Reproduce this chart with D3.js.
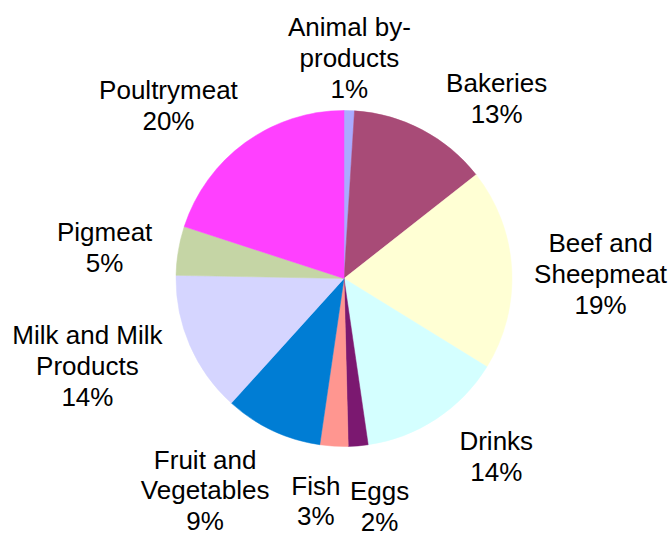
<!DOCTYPE html>
<html>
<head>
<meta charset="utf-8">
<script src="https://cdn.jsdelivr.net/npm/d3@7"></script>
<style>
  body { margin: 0; background: #fff; }
  text { font-family: "Liberation Sans", Arial, sans-serif; fill: #000; }
</style>
</head>
<body>
<svg id="chart"></svg>
<script>
const width = 669;
const height = 536;

// slice data, clockwise from 12 o'clock
const categories = ["Animal by-products", "Bakeries", "Beef and Sheepmeat", "Drinks", "Eggs",
  "Fish", "Fruit and Vegetables", "Milk and Milk Products", "Pigmeat", "Poultrymeat"];
const shares = [1.0, 13.4, 19.4, 13.9, 1.9, 2.7, 9.4, 13.6, 4.7, 20.0];
// label lines as they wrap in the original
const labelLines = [
  ["Animal by-", "products"], ["Bakeries"], ["Beef and", "Sheepmeat"], ["Drinks"], ["Eggs"],
  ["Fish"], ["Fruit and", "Vegetables"], ["Milk and Milk", "Products"], ["Pigmeat"], ["Poultrymeat"]
];
const colors = ["#aaaaff", "#a84b77", "#ffffd4", "#d4ffff", "#7b1870",
  "#ff9690", "#007dd4", "#d5d5ff", "#c5d5a5", "#ff40ff"];

// hand tweaks where the original moved labels apart
const labelShift = {
  "Animal by-products": [-2, 14], "Bakeries": [49, 17], "Beef and Sheepmeat": [-5, 10],
  "Drinks": [29, -10], "Eggs": [17, 9], "Fish": [-15, 3], "Fruit and Vegetables": [-37, -5],
  "Milk and Milk Products": [-2, -23], "Pigmeat": [1, 9], "Poultrymeat": [-43, 9]
};

const cx = 344, cy = 278.5, radius = 168;
const fontSize = 26, lineH = 30.7, capH = fontSize * 0.716;

const svg = d3.select("#chart").attr("width", width).attr("height", height);

const total = d3.sum(shares);
const data = categories.map((c, i) => ({ name: c, value: shares[i], lines: labelLines[i], color: colors[i] }));

const pie = d3.pie().sort(null).value(d => d.value);
const arc = d3.arc().innerRadius(0).outerRadius(radius);
const arcs = pie(data);

const g = svg.append("g").attr("transform", `translate(${cx},${cy})`);

g.selectAll("path")
  .data(arcs)
  .join("path")
  .attr("d", arc)
  .attr("fill", d => d.data.color)
  .attr("stroke", d => d.data.color)
  .attr("stroke-width", 0.5);

// labels: box sits just outside the pie along the mid angle
const labelR = radius + 27;
arcs.forEach(d => {
  const lines = d.data.lines.concat([Math.round(d.data.value / total * 100) + "%"]);
  const t = g.append("text")
    .attr("font-size", fontSize)
    .attr("text-anchor", "middle");
  lines.forEach((l, i) => t.append("tspan").attr("x", 0).attr("y", i * lineH).text(l));

  const w = t.node().getBBox().width;
  const halfW = w / 2;
  const halfH = (capH + (lines.length - 1) * lineH) / 2;
  const a = (d.startAngle + d.endAngle) / 2;
  const s = Math.sin(a), c = Math.cos(a);
  const tEdge = Math.min(Math.abs(s) > 1e-6 ? halfW / Math.abs(s) : Infinity,
                         Math.abs(c) > 1e-6 ? halfH / Math.abs(c) : Infinity);
  const dist = labelR + tEdge;
  const shift = labelShift[d.data.name] || [0, 0];
  const bx = dist * s + shift[0];
  const by = -dist * c + shift[1];
  // by is the middle of the block (cap top to last baseline)
  const firstBaseline = by - halfH + capH;
  t.attr("transform", `translate(${bx},${firstBaseline})`);
});
</script>
</body>
</html>
